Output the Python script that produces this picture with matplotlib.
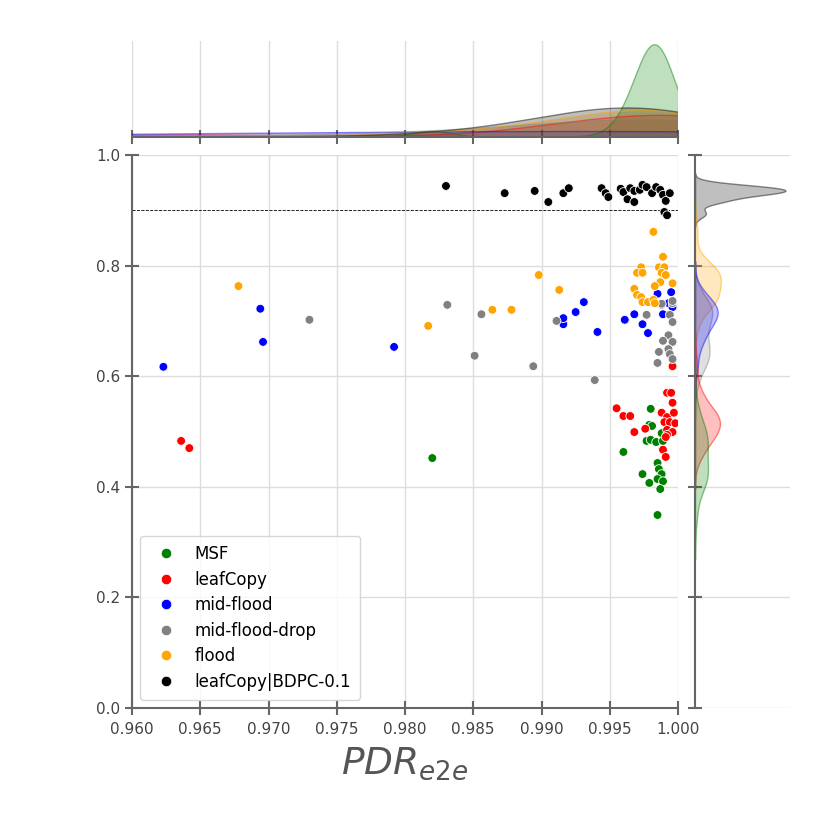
import matplotlib
matplotlib.use("Agg")
import matplotlib.pyplot as plt
import seaborn as sns
import pandas as pd
import numpy as np

groups = ["MSF", "leafCopy", "mid-flood", "mid-flood-drop", "flood", "leafCopy|BDPC-0.1"]
colors = ["green", "red", "blue", "gray", "orange", "black"]

msf_x = [0.9820, 0.9960, 0.9980, 0.9979, 0.9981, 0.9977, 0.9980, 0.9984, 0.9988, 0.9989,
         0.9985, 0.9986, 0.9988, 0.9985, 0.9989, 0.9987, 0.9974, 0.9979, 0.9985]
msf_y = [0.452, 0.463, 0.541, 0.512, 0.510, 0.483, 0.485, 0.481, 0.497, 0.483,
         0.443, 0.432, 0.423, 0.414, 0.410, 0.396, 0.423, 0.407, 0.349]

leaf_x = [0.9636, 0.9642, 0.9955, 0.9960, 0.9965, 0.9968, 0.9976, 0.9992, 0.9995, 0.9996,
          0.9988, 0.9992, 0.9990, 0.9994, 0.9997, 0.9998, 0.9992, 0.9996, 0.9992, 0.9991,
          0.9989, 0.9991, 0.9996]
leaf_y = [0.483, 0.470, 0.542, 0.528, 0.528, 0.499, 0.505, 0.570, 0.570, 0.552,
          0.534, 0.526, 0.517, 0.517, 0.534, 0.515, 0.503, 0.499, 0.494, 0.490,
          0.467, 0.454, 0.618]

mid_x = [0.9623, 0.9694, 0.9696, 0.9792, 0.9916, 0.9916, 0.9925, 0.9931, 0.9941, 0.9961,
         0.9968, 0.9974, 0.9978, 0.9989, 0.9995, 0.9985, 0.9995, 0.9993, 0.9996]
mid_y = [0.617, 0.722, 0.662, 0.653, 0.694, 0.705, 0.716, 0.734, 0.680, 0.702,
         0.712, 0.694, 0.678, 0.712, 0.727, 0.749, 0.752, 0.732, 0.725]

drop_x = [0.9730, 0.9831, 0.9856, 0.9851, 0.9894, 0.9911, 0.9939, 0.9977, 0.9988, 0.9996,
          0.9994, 0.9996, 0.9993, 0.9989, 0.9996, 0.9993, 0.9986, 0.9994, 0.9996, 0.9985,
          0.9988, 0.9996]
drop_y = [0.702, 0.729, 0.712, 0.637, 0.618, 0.700, 0.593, 0.711, 0.729, 0.732,
          0.711, 0.698, 0.674, 0.664, 0.662, 0.649, 0.644, 0.640, 0.631, 0.624,
          0.731, 0.736]

flood_x = [0.9678, 0.9817, 0.9864, 0.9878, 0.9898, 0.9913, 0.9982, 0.9989, 0.9973, 0.9970,
           0.9974, 0.9986, 0.9990, 0.9988, 0.9991, 0.9987, 0.9996, 0.9968, 0.9970, 0.9973,
           0.9983, 0.9974, 0.9978, 0.9982, 0.9983]
flood_y = [0.763, 0.691, 0.720, 0.720, 0.783, 0.756, 0.861, 0.816, 0.797, 0.787,
           0.787, 0.797, 0.797, 0.787, 0.783, 0.770, 0.768, 0.758, 0.747, 0.743,
           0.763, 0.734, 0.734, 0.738, 0.732]

bdpc_x = [0.9830, 0.9873, 0.9895, 0.9905, 0.9916, 0.9920, 0.9944, 0.9947, 0.9949, 0.9958,
          0.9960, 0.9963, 0.9968, 0.9965, 0.9968, 0.9972, 0.9974, 0.9977, 0.9981, 0.9984,
          0.9987, 0.9989, 0.9991, 0.9994, 0.9990, 0.9992]
bdpc_y = [0.944, 0.931, 0.935, 0.915, 0.931, 0.940, 0.940, 0.931, 0.924, 0.939,
          0.933, 0.920, 0.915, 0.940, 0.935, 0.937, 0.946, 0.942, 0.931, 0.942,
          0.937, 0.928, 0.917, 0.931, 0.897, 0.891]

# kde bandwidths used for the top marginal (one per group)
top_bw = [0.0014, 0.0075, 0.025, 0.008, 0.006, 0.006]

xs = [msf_x, leaf_x, mid_x, drop_x, flood_x, bdpc_x]
ys = [msf_y, leaf_y, mid_y, drop_y, flood_y, bdpc_y]

rows = []
for g, gx, gy in zip(groups, xs, ys):
    for a, b in zip(gx, gy):
        rows.append((g, a, b))
df = pd.DataFrame(rows, columns=["group", "pdr", "val"])

spine_c = "#666666"
text_c = "#444444"
plt.rcParams.update({
    "axes.edgecolor": spine_c,
    "axes.linewidth": 1.5,
    "xtick.color": spine_c,
    "ytick.color": spine_c,
    "xtick.labelcolor": text_c,
    "ytick.labelcolor": text_c,
    "xtick.direction": "inout",
    "ytick.direction": "inout",
    "xtick.major.size": 10,
    "ytick.major.size": 10,
    "xtick.major.width": 1.5,
    "ytick.major.width": 1.5,
    "xtick.major.pad": 5,
    "xtick.labelsize": 11,
    "ytick.labelsize": 11,
    "grid.color": "#dddddd",
    "grid.linewidth": 1.0,
})

fig = plt.figure(figsize=(8.3, 8.3), dpi=100)
W = 830.0
ax = fig.add_axes([132 / W, 122 / W, 546 / W, 553 / W])
ax_top = fig.add_axes([132 / W, (830 - 137) / W, 546 / W, 96 / W], sharex=ax)
ax_right = fig.add_axes([695 / W, 122 / W, 95 / W, 553 / W], sharey=ax)

pal = dict(zip(groups, colors))
sns.scatterplot(data=df, x="pdr", y="val", hue="group", palette=pal, ax=ax,
                s=40, edgecolor="white", linewidth=0.6, zorder=3)
ax.axhline(0.9, color="black", ls="--", lw=0.6, zorder=2)

# top marginal: gaussian kde per group, scaled by group share
N = len(df)
grid = np.linspace(0.94, 1.01, 600)
peak = 0
for gx, c, bw in zip(xs, colors, top_bw):
    gx = np.asarray(gx)
    dens = np.exp(-0.5 * ((grid[:, None] - gx[None, :]) / bw) ** 2).sum(axis=1)
    dens = dens / (N * bw * np.sqrt(2 * np.pi))
    ax_top.fill_between(grid, dens, color=c, alpha=0.25, lw=0)
    ax_top.plot(grid, dens, color=c, alpha=0.45, lw=1)
    vis = dens[grid <= 1.0]
    peak = max(peak, vis.max())
ax_top.set_ylim(0, peak * 1.04)

sns.kdeplot(data=df, y="val", hue="group", palette=pal, fill=True, ax=ax_right,
            legend=False, alpha=0.25, linewidth=1)
for coll in ax_right.collections:
    ec = coll.get_edgecolor()
    if len(ec):
        ec = ec.copy()
        ec[:, 3] = 0.45
        coll.set_edgecolor(ec)

ax.set_xlim(0.96, 1.0)
ax.set_ylim(0.0, 1.0)
ax.set_xticks([0.96, 0.965, 0.97, 0.975, 0.98, 0.985, 0.99, 0.995, 1.0])
ax.set_xticklabels(["0.960", "0.965", "0.970", "0.975", "0.980", "0.985", "0.990", "0.995", "1.000"])
ax.set_yticks([0.0, 0.2, 0.4, 0.6, 0.8, 1.0])
ax.grid(True, zorder=0)
ax.set_axisbelow(True)
for s in ["top", "right"]:
    ax.spines[s].set_visible(False)
ax.set_xlabel("$PDR_{e2e}$", fontsize=27, color="#555555", labelpad=6)
ax.set_ylabel("")

ax_top.grid(True, axis="x")
ax_top.set_axisbelow(True)
ax_top.set_ylabel("")
ax_top.set_xlabel("")
ax_top.tick_params(axis="x", labelbottom=False)
ax_top.set_yticks([])
for s in ["top", "right", "left"]:
    ax_top.spines[s].set_visible(False)

ax_right.grid(True, axis="y")
ax_right.set_axisbelow(True)
ax_right.set_xlabel("")
ax_right.set_ylabel("")
ax_right.tick_params(axis="y", labelleft=False)
ax_right.set_xticks([])
for s in ["top", "right", "bottom"]:
    ax_right.spines[s].set_visible(False)

leg = ax.legend(loc="lower left", fontsize=12, frameon=True, markerscale=1.2,
                borderpad=0.55, labelspacing=0.45, handletextpad=0.7)
leg.get_frame().set_edgecolor("#cccccc")

fig.savefig("out.png", dpi=100)
